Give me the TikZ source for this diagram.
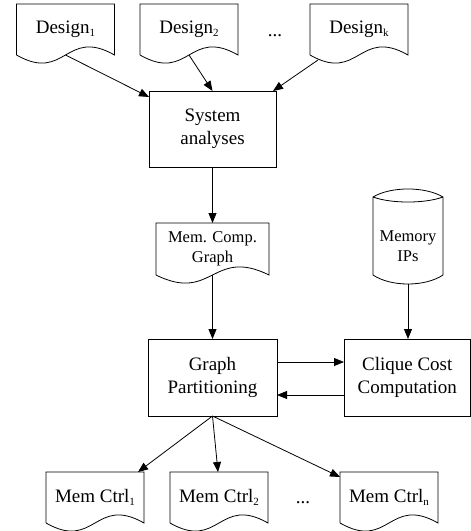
\documentclass[tikz,border=0pt]{standalone}
\usepackage{fontspec}
\setmainfont{Liberation Serif}
\usetikzlibrary{arrows.meta,calc}
\newcommand\sbs[1]{\raisebox{-0.35ex}{\fontsize{11}{11}\selectfont #1}}
\newcommand\docpath[1]{\draw[shapeline] (#1.south west) -- (#1.north west) -- (#1.north east) -- (#1.south east) .. controls ($(#1.south)+(0,-28)$) and ($(#1.south)+(0,28)$) .. (#1.south west);}
\tikzset{
  shapeline/.style={line width=0.8pt, black},
  arr/.style={line width=0.8pt, -{Triangle[length=10pt,width=8pt]}},
  bigtxt/.style={font=\fontsize{19}{23.5}\selectfont, align=center},
  smalltxt/.style={font=\fontsize{16.5}{19.5}\selectfont, align=center},
  docbox/.style={bigtxt, draw=none, minimum width=98pt, minimum height=51pt, inner sep=0pt, outer sep=0pt},
  procbox/.style={bigtxt, draw, line width=0.8pt, inner sep=0pt, outer sep=0pt},
}
\begin{document}
\begin{tikzpicture}[x=1pt,y=-1pt]
\useasboundingbox (0,0) rectangle (471,531);
% top documents
\node[docbox] (d1) at (65.5,29.5) {Design\sbs{1}};
\node[docbox] (d2) at (189,29.5) {Design\sbs{2}};
\node[docbox] (dk) at (359,29.5) {Design\sbs{k}};
\docpath{d1}\docpath{d2}\docpath{dk}
\node[bigtxt, inner sep=0pt] (dots1) at (275,36) {...};
% system analyses
\node[procbox, minimum width=127pt, minimum height=76pt] (sys) at (212.5,129) {System\\analyses};
% mem comp graph
\node[docbox, smalltxt, minimum width=113pt, minimum height=52pt] (mg) at (212.5,249) {Mem. Comp.\\Graph};
\docpath{mg}
% memory IPs cylinder
\node[smalltxt, inner sep=0pt] (mem) at (408,246) {Memory\\IPs};
\draw[shapeline] ($(mem)+(-35,-49)$) .. controls ($(mem)+(-17,-59.7)$) and ($(mem)+(17,-59.7)$) .. ($(mem)+(35,-49)$)
  -- ($(mem)+(35,29)$) .. controls ($(mem)+(17,41)$) and ($(mem)+(-17,41)$) .. ($(mem)+(-35,29)$) -- cycle;
\draw[shapeline] ($(mem)+(-35,-49)$) .. controls ($(mem)+(-17,-42.3)$) and ($(mem)+(17,-42.3)$) .. ($(mem)+(35,-49)$);
\coordinate (memb) at ($(mem)+(0,38)$);
% graph partitioning and clique cost
\node[procbox, minimum width=129pt, minimum height=77pt] (gp) at (212.5,377.5) {Graph\\Partitioning};
\node[procbox, minimum width=126.5pt, minimum height=77pt] (cc) at (407.25,377.5) {Clique Cost\\Computation};
% mem ctrls
\node[docbox] (mc1) at (95,497.5) {Mem Ctrl\sbs{1}};
\node[docbox] (mc2) at (219,497.5) {Mem Ctrl\sbs{2}};
\node[docbox] (mcn) at (389,497.5) {Mem Ctrl\sbs{n}};
\docpath{mc1}\docpath{mc2}\docpath{mcn}
\node[bigtxt, inner sep=0pt] (dots2) at (303,503) {...};
% connectors
\draw[arr] (d1.south) -- ($(sys.north west)+(0,6)$);
\draw[arr] (d2.south) -- (sys.north);
\draw[arr] ($(dk.south west)+(8,5)$) -- ($(sys.north east)+(-3,0)$);
\draw[arr] (sys.south) -- (mg.north);
\draw[arr] (mg.south) -- (gp.north);
\draw[arr] (memb) -- (memb |- cc.north);
\draw[arr] ($(gp.east)+(0,-15.5)$) -- ($(cc.west)+(0,-15.5)$);
\draw[arr] ($(cc.west)+(0,17.5)$) -- ($(gp.east)+(0,17.5)$);
\draw[arr] (gp.south) -- ($(mc1.north east)+(-6,0)$);
\draw[arr] (gp.south) -- ($(mc2.north)+(-1,0)$);
\draw[arr] (gp.south) -- ($(mcn.north west)+(0,5)$);
\end{tikzpicture}
\end{document}
